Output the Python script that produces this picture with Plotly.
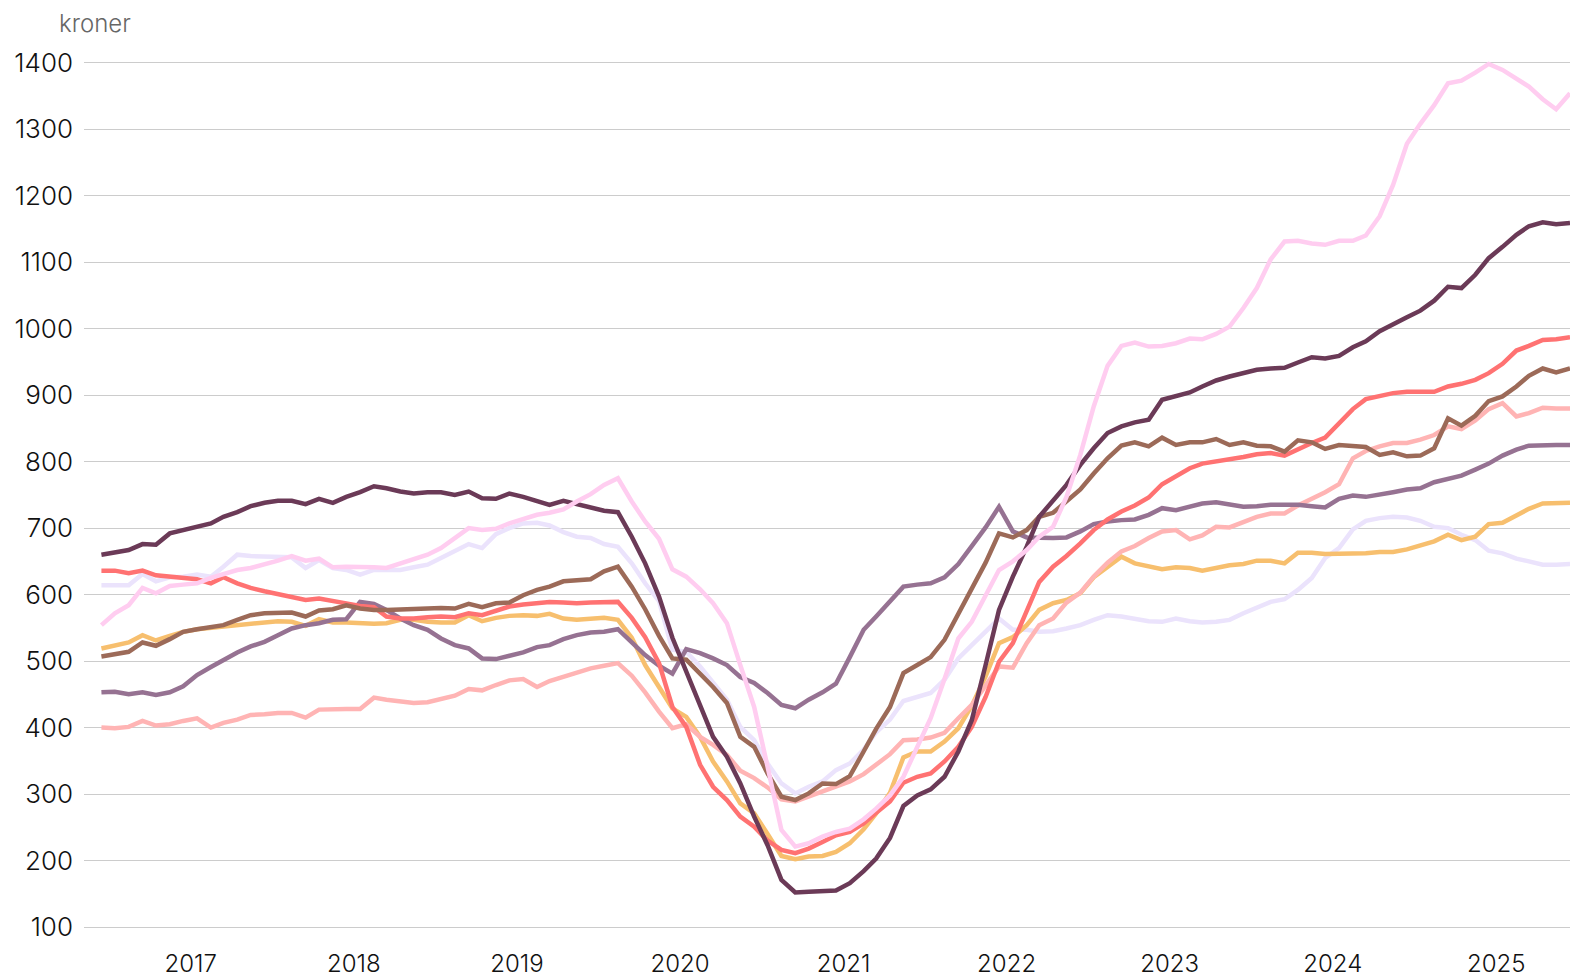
import plotly.graph_objects as go

# ---- categories: monthly observations, June 2016 .. June 2025 (mid-month) ----
START_YEAR, START_MONTH, N_MONTHS = 2016, 6, 109
months = []
y_, m_ = START_YEAR, START_MONTH
for _ in range(N_MONTHS):
    months.append(f"{y_:04d}-{m_:02d}-15")
    m_ += 1
    if m_ > 12:
        m_ = 1
        y_ += 1

year_labels = ["2017", "2018", "2019", "2020", "2021", "2022", "2023", "2024", "2025"]
year_tickvals = [f"{y}-01-01" for y in year_labels]
y_tickvals = [100, 200, 300, 400, 500, 600, 700, 800, 900, 1000, 1100, 1200, 1300, 1400]
unit_label = "kroner"

# ---- series values (kroner) ----
plum = [660,663,667,676,675,692,697,702,707,717,724,733,738,741,741,736,744,738,747,754,763,760,755,752,754,754,750,755,745,744,752,
        747,741,735,741,736,731,726,724,687,647,597,535,
        485,437,386,356,316,266,223,171,152,153,154,155,166,184,203,234,
        282,298,307,326,364,411,
        494,577,627,672,717,742,765,795,820,843,853,859,863,893,899,
        904,913,922,928,933,938,940,941,949,957,955,959,972,981,
        996,1007,1017,1027,1042,1063,1061,1081,1106,1123,1141,1154,1160,1157,1159]

red = [636,636,632,636,629,627,624,623,617,626,617,610,605,601,597,592,594,590,586,583,581,567,564,564,566,567,566,572,569,575,582,
       585,587,589,588,587,588,589,589,
       565,536,497,431,401,344,311,291,266,251,230,216,211,218,228,238,243,256,272,289,
       317,326,331,349,371,401,
       446,499,527,574,619,642,658,677,697,713,725,734,746,766,779,
       790,797,800,803,807,811,813,809,819,828,836,857,879,894,898,903,905,905,905,913,917,923,933,947,967,974,983,984,987]

lavender = [614,614,614,631,620,626,627,630,627,642,660,658,657,657,656,640,652,640,637,630,637,637,637,641,645,655,665,676,670,691,700,
            707,708,704,694,687,685,676,672,647,617,
            590,517,514,492,467,442,401,381,346,316,301,311,319,336,346,367,393,412,
            440,446,452,472,504,524,545,564,547,547,544,545,549,554,562,569,567,563,560,559,564,560,558,559,562,
            572,580,589,593,607,625,655,670,698,711,715,717,716,711,702,700,690,682,666,662,654,650,645,645,646]

pink = [554,572,584,610,602,613,615,617,625,630,637,640,645,651,658,651,654,641,642,642,641,640,647,652,660,670,685,700,697,699,707,
        714,720,723,728,740,751,765,775,
        740,710,684,638,627,608,587,557,494,431,341,246,221,226,236,243,248,262,278,298,
        326,371,414,
        473,534,559,597,637,650,667,687,702,747,810,883,944,974,979,973,974,978,985,984,992,1003,
        1031,1061,1104,1131,1132,1128,1126,1132,1132,1140,1169,1216,1278,1308,1336,1369,1373,1385,1398,1389,1376,1364,1345,1330,1354]

yellow = [519,524,528,539,531,538,544,548,550,552,554,557,559,560,559,553,563,558,558,557,556,557,562,562,559,558,558,569,560,565,568,
          569,568,571,564,562,563,565,562,
          535,494,461,429,416,386,349,319,286,271,240,207,202,206,207,213,226,247,271,302,355,364,364,379,399,
          433,477,527,536,554,577,587,592,602,626,642,657,647,642,638,641,640,636,640,644,
          646,651,651,647,663,663,661,661,662,662,664,664,668,674,680,690,682,687,706,708,719,729,737,738,738]

brown = [507,511,514,528,523,533,544,548,552,554,562,569,572,573,573,567,576,578,584,579,577,577,578,579,580,580,579,586,581,587,588,
         599,607,612,620,621,623,635,642,
         612,578,538,504,502,482,461,437,386,371,331,296,291,301,316,315,327,364,398,431,
         482,494,506,532,572,610,648,692,686,697,717,723,740,758,782,805,824,829,823,836,825,829,829,834,825,
         829,824,823,815,832,829,819,825,824,822,810,814,808,809,820,865,854,869,891,898,913,929,940,934,940]

mauve = [453,454,450,453,449,453,462,479,491,502,513,522,529,539,549,554,557,562,563,589,586,577,564,554,547,534,524,519,504,503,508,
         513,521,524,533,539,543,544,548,
         528,509,493,481,518,512,504,494,476,467,452,434,429,442,453,466,506,547,567,589,
         612,615,617,626,646,673,701,732,695,686,685,685,686,695,706,710,712,713,720,730,727,733,737,739,736,
         732,733,735,735,735,733,731,744,749,747,750,754,758,760,769,774,779,788,797,809,818,824,825,825,825]

salmon = [400,399,401,410,403,405,410,414,400,407,412,419,420,422,422,415,427,428,428,428,445,442,440,437,438,443,448,458,456,464,471,
          473,461,470,477,483,489,493,497,
          478,453,424,399,405,386,374,359,335,324,310,292,289,296,305,311,319,330,345,360,
          381,382,385,392,414,434,463,492,490,527,554,564,588,603,627,648,665,673,685,695,697,683,689,702,701,
          710,717,722,722,734,744,754,766,805,816,823,828,828,833,840,853,849,862,879,888,868,873,881,880,880]

# drawing order (last on top) with colours
series = [
    ("lavender", lavender, "#ebe3fc"),
    ("yellow", yellow, "#f7bf6e"),
    ("salmon", salmon, "#ffb4b4"),
    ("mauve", mauve, "#967292"),
    ("red", red, "#ff7272"),
    ("brown", brown, "#9c6a58"),
    ("plum", plum, "#6b3a57"),
    ("pink", pink, "#ffcdf0"),
]

fig = go.Figure()
for name, vals, col in series:
    fig.add_trace(go.Scatter(x=months, y=vals, mode="lines", name=name,
                             line=dict(color=col, width=4.5), showlegend=False,
                             hoverinfo="skip"))

FONT = "Inter, Roboto, sans-serif"
fig.update_layout(
    width=1570, height=978,
    margin=dict(l=84, r=0, t=56, b=31, autoexpand=False),
    paper_bgcolor="white", plot_bgcolor="white",
    font=dict(family=FONT, size=24, color="#111111"),
    xaxis=dict(type="date", range=["2016-05-07", "2025-06-15"],
               tickvals=year_tickvals, ticktext=year_labels,
               showgrid=False, zeroline=False, showline=False, ticks="",
               automargin=False, ticklabelstandoff=0,
               tickfont=dict(family=FONT, size=24, color="#111111", weight=300)),
    yaxis=dict(range=[70, 1410], tickvals=y_tickvals,
               showgrid=True, gridcolor="#cccccc", gridwidth=1,
               zeroline=False, showline=False, ticks="",
               automargin=False, ticklabelstandoff=10,
               tickfont=dict(family=FONT, size=26, color="#111111", weight=300)),
    annotations=[dict(text=unit_label, xref="paper", yref="paper",
                      x=(57 - 84) / 1486, y=(947 - 23) / 891,
                      xanchor="left", yanchor="middle", showarrow=False,
                      font=dict(family=FONT, size=24, color="#666666", weight=300))],
)

# remove the default 8px page margin so the 1570x978 figure fills the window exactly
fig.write_html("out.html",
               config={"displayModeBar": False},
               post_script="document.body.style.margin='0';document.body.style.overflow='hidden';")
